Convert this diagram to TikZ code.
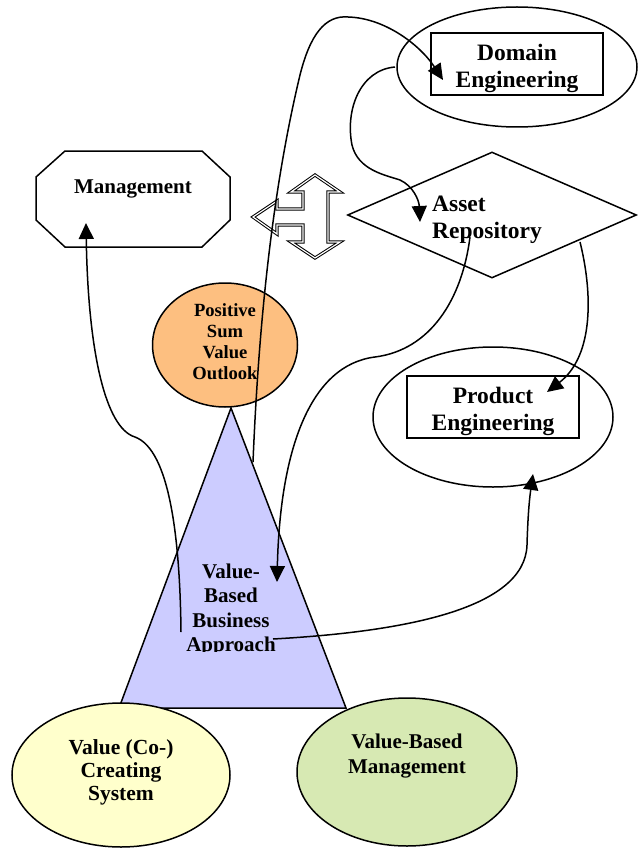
\documentclass[tikz,border=0pt]{standalone}
\usepackage{fontspec}
\setmainfont{Liberation Serif}
\usetikzlibrary{shapes.geometric,arrows.meta}
\definecolor{outlookorange}{RGB}{253,191,128}
\definecolor{approachblue}{RGB}{204,204,255}
\definecolor{cocreateyellow}{RGB}{255,255,204}
\definecolor{vbmgreen}{RGB}{215,233,179}
\tikzset{
  bigtext/.style={font=\bfseries\fontsize{23.5}{27}\selectfont, align=center, inner sep=0pt},
  midtext/.style={font=\bfseries\fontsize{21}{24.3}\selectfont, align=center, inner sep=0pt},
  smalltext/.style={font=\bfseries\fontsize{18.6}{21}\selectfont, align=center, inner sep=0pt},
  engbox/.style={draw, line width=2pt, minimum width=172pt, minimum height=62pt, inner sep=0pt},
  oval/.style={draw, ellipse, line width=1.5pt, inner sep=0pt},
  hollow/.style={draw, double=white, double distance=1.2pt, line width=1pt},
  link/.style={line width=1.5pt, -{Triangle[length=16pt,width=15pt]}},
}
\begin{document}
\begin{tikzpicture}[x=1pt,y=-1pt]
  \useasboundingbox (0,0) rectangle (637,848);
  % Management
  \draw[line width=1.5pt] (65,151) -- (202,151) -- (230,177) -- (230,220) -- (202,247)
      -- (65,247) -- (36,220) -- (36,177) -- cycle;
  \node[midtext] (mgmt) at (133,189) {Management};
  % double arrow
  \draw[hollow] (253,217) -- (277,201) -- (277,209) -- (303,209) -- (303,192) -- (291,192)
      -- (315,175) -- (340,192) -- (328,192) -- (328,242) -- (340,242) -- (315,258)
      -- (291,242) -- (303,242) -- (303,225) -- (277,225) -- (277,234) -- cycle;
  % engineering
  \node[oval, minimum width=240pt, minimum height=120pt] (domain) at (517,67) {};
  \node[engbox] (dombox) at (517,64) {};
  \node[bigtext] (domtext) at (517,68) {Domain\\Engineering};
  \node[draw, diamond, line width=1.5pt, minimum width=289pt, minimum height=126pt,
      inner sep=0pt] (asset) at (492,215) {};
  \node[bigtext, align=left, anchor=west] (assettext) at (432,219.5) {Asset\\Repository};
  \node[oval, minimum width=240pt, minimum height=140pt] (product) at (493,417) {};
  \node[engbox] (prodbox) at (493,407) {};
  \node[bigtext] (prodtext) at (493,411) {Product\\Engineering};
  % value based side
  \node[oval, fill=outlookorange, minimum width=145pt, minimum height=124pt] (outlook) at (225,345) {};
  \begin{scope}
    \clip (150,285) rectangle (300,379.5);
    \node[smalltext] (outlooktext) at (225,342) {Positive\\Sum\\Value\\Outlook};
  \end{scope}
  \coordinate (apex) at (231,408);
  \coordinate (triright) at (346,708);
  \coordinate (trileft) at (119,708);
  \draw[line width=1.5pt, fill=approachblue] (apex) -- (triright) -- (trileft) -- cycle;
  \begin{scope}
    \clip (140,540) rectangle (330,651);
    \node[midtext] (approach) at (231,610) {Value-\\Based\\Business\\Approach};
  \end{scope}
  \node[oval, fill=cocreateyellow, minimum width=218pt, minimum height=144pt] (cocreate) at (121,775) {};
  \node[midtext, font=\bfseries\fontsize{21.5}{23}\selectfont] (cocreatetext) at (121,772) {Value (Co-)\\Creating\\System};
  \node[oval, fill=vbmgreen, minimum width=220pt, minimum height=148pt] (vbm) at (407,772) {};
  \node[midtext] (vbmtext) at (407,756) {Value-Based\\Management};
  % connectors
  \coordinate (bizright) at (253,462);
  \coordinate (domtip) at (443,80);
  \coordinate (domleft) at (395,67);
  \coordinate (assettip) at (420,222);
  \coordinate (assetmid) at (470,237);
  \coordinate (biztip) at (277,582);
  \coordinate (assetright) at (580,242);
  \coordinate (prodtip) at (547,392);
  \coordinate (bizend) at (273,639);
  \coordinate (prodbottom) at (533,474);
  \coordinate (bizstart) at (181,632);
  \coordinate (mgmttip) at (86,223);
  \draw[link] (bizright) .. controls (258,340) and (270,200) .. (300,75)
      .. controls (310,35) and (325,15) .. (348,17) .. controls (385,18) and (420,45) .. (domtip);
  \draw[link] (domleft) .. controls (360,70) and (345,110) .. (352,145)
      .. controls (358,170) and (385,175) .. (400,180) .. controls (413,186) and (419,200) .. (assettip);
  \draw[link] (assetmid) .. controls (462,300) and (430,350) .. (375,357)
      .. controls (310,365) and (280,450) .. (biztip);
  \draw[link] (assetright) .. controls (592,290) and (595,355) .. (prodtip);
  \draw[link] (bizend) .. controls (400,632) and (525,610) .. (527,545)
      .. controls (528,510) and (530,495) .. (prodbottom);
  \draw[link] (bizstart) .. controls (180,540) and (170,450) .. (135,437)
      .. controls (105,428) and (88,350) .. (mgmttip);
\end{tikzpicture}
\end{document}
